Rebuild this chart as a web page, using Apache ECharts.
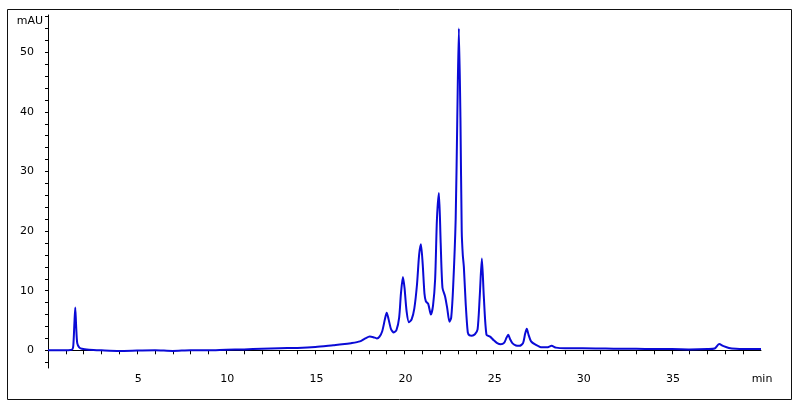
<!DOCTYPE html>
<html>
<head>
<meta charset="utf-8">
<title>Chromatogram</title>
<script src="https://cdn.jsdelivr.net/npm/echarts@6.0.0/dist/echarts.min.js"></script>
<style>
  html, body { margin: 0; padding: 0; background: #fff; }
  #chart { width: 800px; height: 409px; }
</style>
</head>
<body>
<div id="chart"></div>
<script>
// retention time (min) and absorbance (mAU)
const times = [
  0, 0.5, 1.0, 1.35, 1.42, 1.48, 1.53, 1.58, 1.64, 1.75, 1.9, 2.3, 3.0, 4, 5, 6, 7, 8, 9, 10,
  11, 12, 13, 14, 15, 16, 16.5, 17, 17.5, 17.8, 18.05, 18.25, 18.45, 18.6, 18.75, 18.9, 19.0, 19.1, 19.25, 19.4,
  19.55, 19.7, 19.8, 19.91, 20.0, 20.12, 20.25, 20.4, 20.55, 20.7, 20.82, 20.92, 21.02, 21.12, 21.2, 21.33, 21.48, 21.6, 21.72, 21.82,
  21.93, 22.03, 22.13, 22.28, 22.4, 22.52, 22.62, 22.73, 22.87, 22.96, 23.05, 23.14, 23.21, 23.27, 23.33, 23.43, 23.55, 23.65, 23.78, 23.95,
  24.1, 24.22, 24.34, 24.45, 24.6, 24.8, 25.0, 25.2, 25.4, 25.6, 25.72, 25.82, 25.92, 26.05, 26.25, 26.45, 26.65, 26.77, 26.86, 26.96,
  27.1, 27.35, 27.7, 28.0, 28.25, 28.5, 29, 30, 31, 32, 33, 34, 35, 36, 37, 37.4, 37.65, 37.9, 38.2, 38.6,
  39, 40
]
const signal = [
  0, 0, 0, 0.1, 0.8, 4.5, 7.2, 4.0, 1.2, 0.5, 0.25, 0.1, 0, -0.1, -0.05, 0, -0.1, 0, 0, 0.1,
  0.15, 0.25, 0.35, 0.4, 0.55, 0.85, 1.0, 1.2, 1.5, 2.0, 2.3, 2.2, 2.0, 2.3, 3.2, 5.2, 6.3, 5.3, 3.5, 3.0,
  3.4, 5.5, 9.5, 12.3, 10.5, 6.5, 4.7, 5.2, 7.0, 11.0, 16.0, 17.8, 14.5, 9.5, 8.2, 7.8, 6.0, 7.5, 12.0, 22.0,
  26.4, 18.0, 10.5, 9.0, 7.0, 4.8, 5.5, 10.7, 21.9, 38.6, 54.0, 38.6, 20.0, 16.0, 14.0, 8.0, 3.0, 2.5, 2.45, 2.7,
  3.5, 9.0, 15.4, 9.0, 2.6, 2.3, 1.7, 1.2, 1.0, 1.3, 2.1, 2.6, 1.9, 1.2, 0.8, 0.75, 1.2, 2.8, 3.6, 2.6,
  1.5, 0.95, 0.5, 0.5, 0.75, 0.45, 0.35, 0.35, 0.3, 0.25, 0.25, 0.2, 0.2, 0.15, 0.2, 0.3, 1.05, 0.7, 0.4, 0.25,
  0.2, 0.2
]
const xTickValues = [1, 2, 3, 4, 5, 6, 7, 8, 9, 10, 11, 12, 13, 14, 15, 16, 17, 18, 19, 20, 21, 22, 23, 24, 25, 26, 27, 28, 29, 30, 31, 32, 33, 34, 35, 36, 37, 38, 39]
const xLabelValues = [5, 10, 15, 20, 25, 30, 35, 40]
const yLabelValues = [0, 10, 20, 30, 40, 50]
const yTickValues = [-2, 0, 2, 4, 6, 8, 10, 12, 14, 16, 18, 20, 22, 24, 26, 28, 30, 32, 34, 36, 38, 40, 42, 44, 46, 48, 50, 52, 54, 56]

const chart = echarts.init(document.getElementById('chart'))

const textStyle = { color: '#000', fontFamily: 'DejaVu Sans', fontSize: 11 }

const option = {
  animation: false,
  grid: { left: 48, right: 39, top: 15, bottom: 41 },
  graphic: [
    {
      type: 'rect',
      shape: { x: 7.5, y: 9.5, width: 784, height: 390 },
      style: { fill: 'none', stroke: '#111', lineWidth: 1 },
      silent: true
    }
  ],
  xAxis: {
    type: 'value',
    min: 0,
    max: 40,
    axisLine: { show: true, lineStyle: { color: '#000', width: 1 } },
    axisTick: { show: true, length: 4, lineStyle: { color: '#000' }, customValues: xTickValues },
    splitLine: { show: false },
    axisLabel: {
      ...textStyle,
      margin: 6,
      padding: [0, 0, 0, 2],
      customValues: xLabelValues,
      formatter: (v) => (v === 40 ? 'min' : String(v))
    }
  },
  yAxis: {
    type: 'value',
    min: -2.97,
    max: 56.26,
    name: 'mAU',
    nameLocation: 'end',
    nameGap: -6,
    nameTextStyle: { ...textStyle, align: 'right', verticalAlign: 'middle', padding: [0, 5, 0, 0] },
    axisLine: { show: true, lineStyle: { color: '#000', width: 1 } },
    axisTick: { show: true, length: 3, lineStyle: { color: '#000' }, customValues: yTickValues },
    splitLine: { show: false },
    axisLabel: { ...textStyle, margin: 14, customValues: yLabelValues }
  },
  series: [
    {
      type: 'line',
      data: times.map((t, i) => [t, signal[i]]),
      smooth: 0.25,
      showSymbol: false,
      clip: true,
      lineStyle: { color: '#0a0ad6', width: 2 }
    }
  ]
}

option && chart.setOption(option)
</script>
</body>
</html>
